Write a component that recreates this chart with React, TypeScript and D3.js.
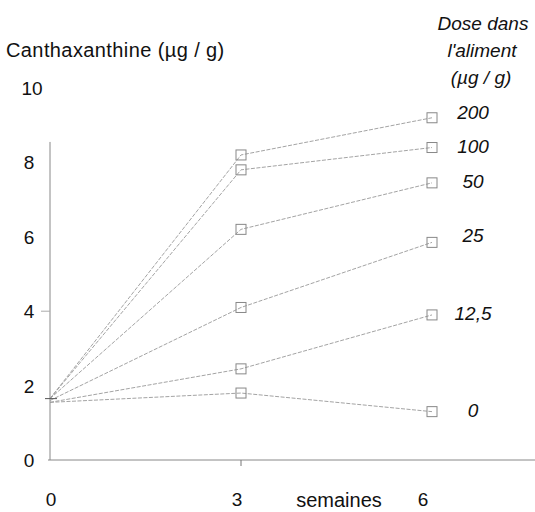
import React from "react";
import * as d3 from "d3";

const weeks = [0, 3, 6];
const doses = ["200", "100", "50", "25", "12,5", "0"];
const series: number[][] = [
  [1.65, 8.2, 9.2],
  [1.65, 7.8, 8.4],
  [1.65, 6.2, 7.45],
  [1.6, 4.1, 5.85],
  [1.55, 2.45, 3.9],
  [1.55, 1.8, 1.3],
];
const labelPos = [9.35, 8.45, 7.5, 6.05, 3.95, 1.35];
const yTicks = [0, 2, 4, 6, 8, 10];
const xTicks = [0, 3, 6];

export default function App() {
  const W = 535, H = 512;
  const x = d3.scaleLinear().domain([0, 6]).range([50, 432]);
  const y = d3.scaleLinear().domain([0, 10]).range([460, 88]);
  const line = d3.line<[number, number]>().x(d => x(d[0])).y(d => y(d[1]));
  const font = "Liberation Sans, Arial, sans-serif";
  const s = 10;
  return (
    <svg width={W} height={H} style={{ position: "absolute", left: 0, top: 0 }} fontFamily={font}>
      <rect width={W} height={H} fill="#fff" />
      <text x={6} y={57} fontSize={20} letterSpacing={0.4} fill="#111">Canthaxanthine (µg / g)</text>
      <g fontSize={19} fontStyle="italic" fill="#111" textAnchor="middle">
        <text x={483} y={30}>Dose dans</text>
        <text x={482} y={57}>l'aliment</text>
        <text x={481} y={84}>(µg / g)</text>
      </g>
      {yTicks.map(t => (
        <text key={t} x={t === 10 ? 32 : 29} y={y(t) + 7} fontSize={19} textAnchor="middle" fill="#111">{t}</text>
      ))}
      {xTicks.map(t => (
        <text key={t} x={x(t) - 5 * (t / 3) + 1} y={506} fontSize={19} textAnchor="middle" fill="#111">{t}</text>
      ))}
      <text x={339} y={507} fontSize={20} textAnchor="middle" fill="#111">semaines</text>
      <line x1={x(0)} x2={x(0)} y1={y(8.55)} y2={y(0)} stroke="#888" strokeWidth={1} />
      <line x1={41} x2={x(0)} y1={y(4)} y2={y(4)} stroke="#aaa" strokeWidth={1} />
      <line x1={48} x2={W} y1={y(0)} y2={y(0)} stroke="#888" strokeWidth={1} />
      <line x1={x(3)} x2={x(3)} y1={y(0)} y2={y(0) + 6} stroke="#777" strokeWidth={1} />
      {series.map((vals, i) => {
        const pts = weeks.map((w, j) => [w, vals[j]] as [number, number]);
        return (
          <g key={i}>
            <path d={line(pts) || ""} fill="none" stroke="#999" strokeWidth={0.9} strokeDasharray="4,1.5" />
            {pts.slice(1).map((p, j) => (
              <rect key={j} x={x(p[0]) - s / 2} y={y(p[1]) - s / 2} width={s} height={s}
                fill="none" stroke="#888" strokeWidth={1} />
            ))}
          </g>
        );
      })}
      <line x1={45} x2={57} y1={y(1.65)} y2={y(1.65)} stroke="#555" strokeWidth={1} />
      {doses.map((d, i) => (
        <text key={d} x={473} y={y(labelPos[i]) + 7} fontSize={19}
          fontStyle="italic" textAnchor="middle" fill="#111">{d}</text>
      ))}
    </svg>
  );
}
